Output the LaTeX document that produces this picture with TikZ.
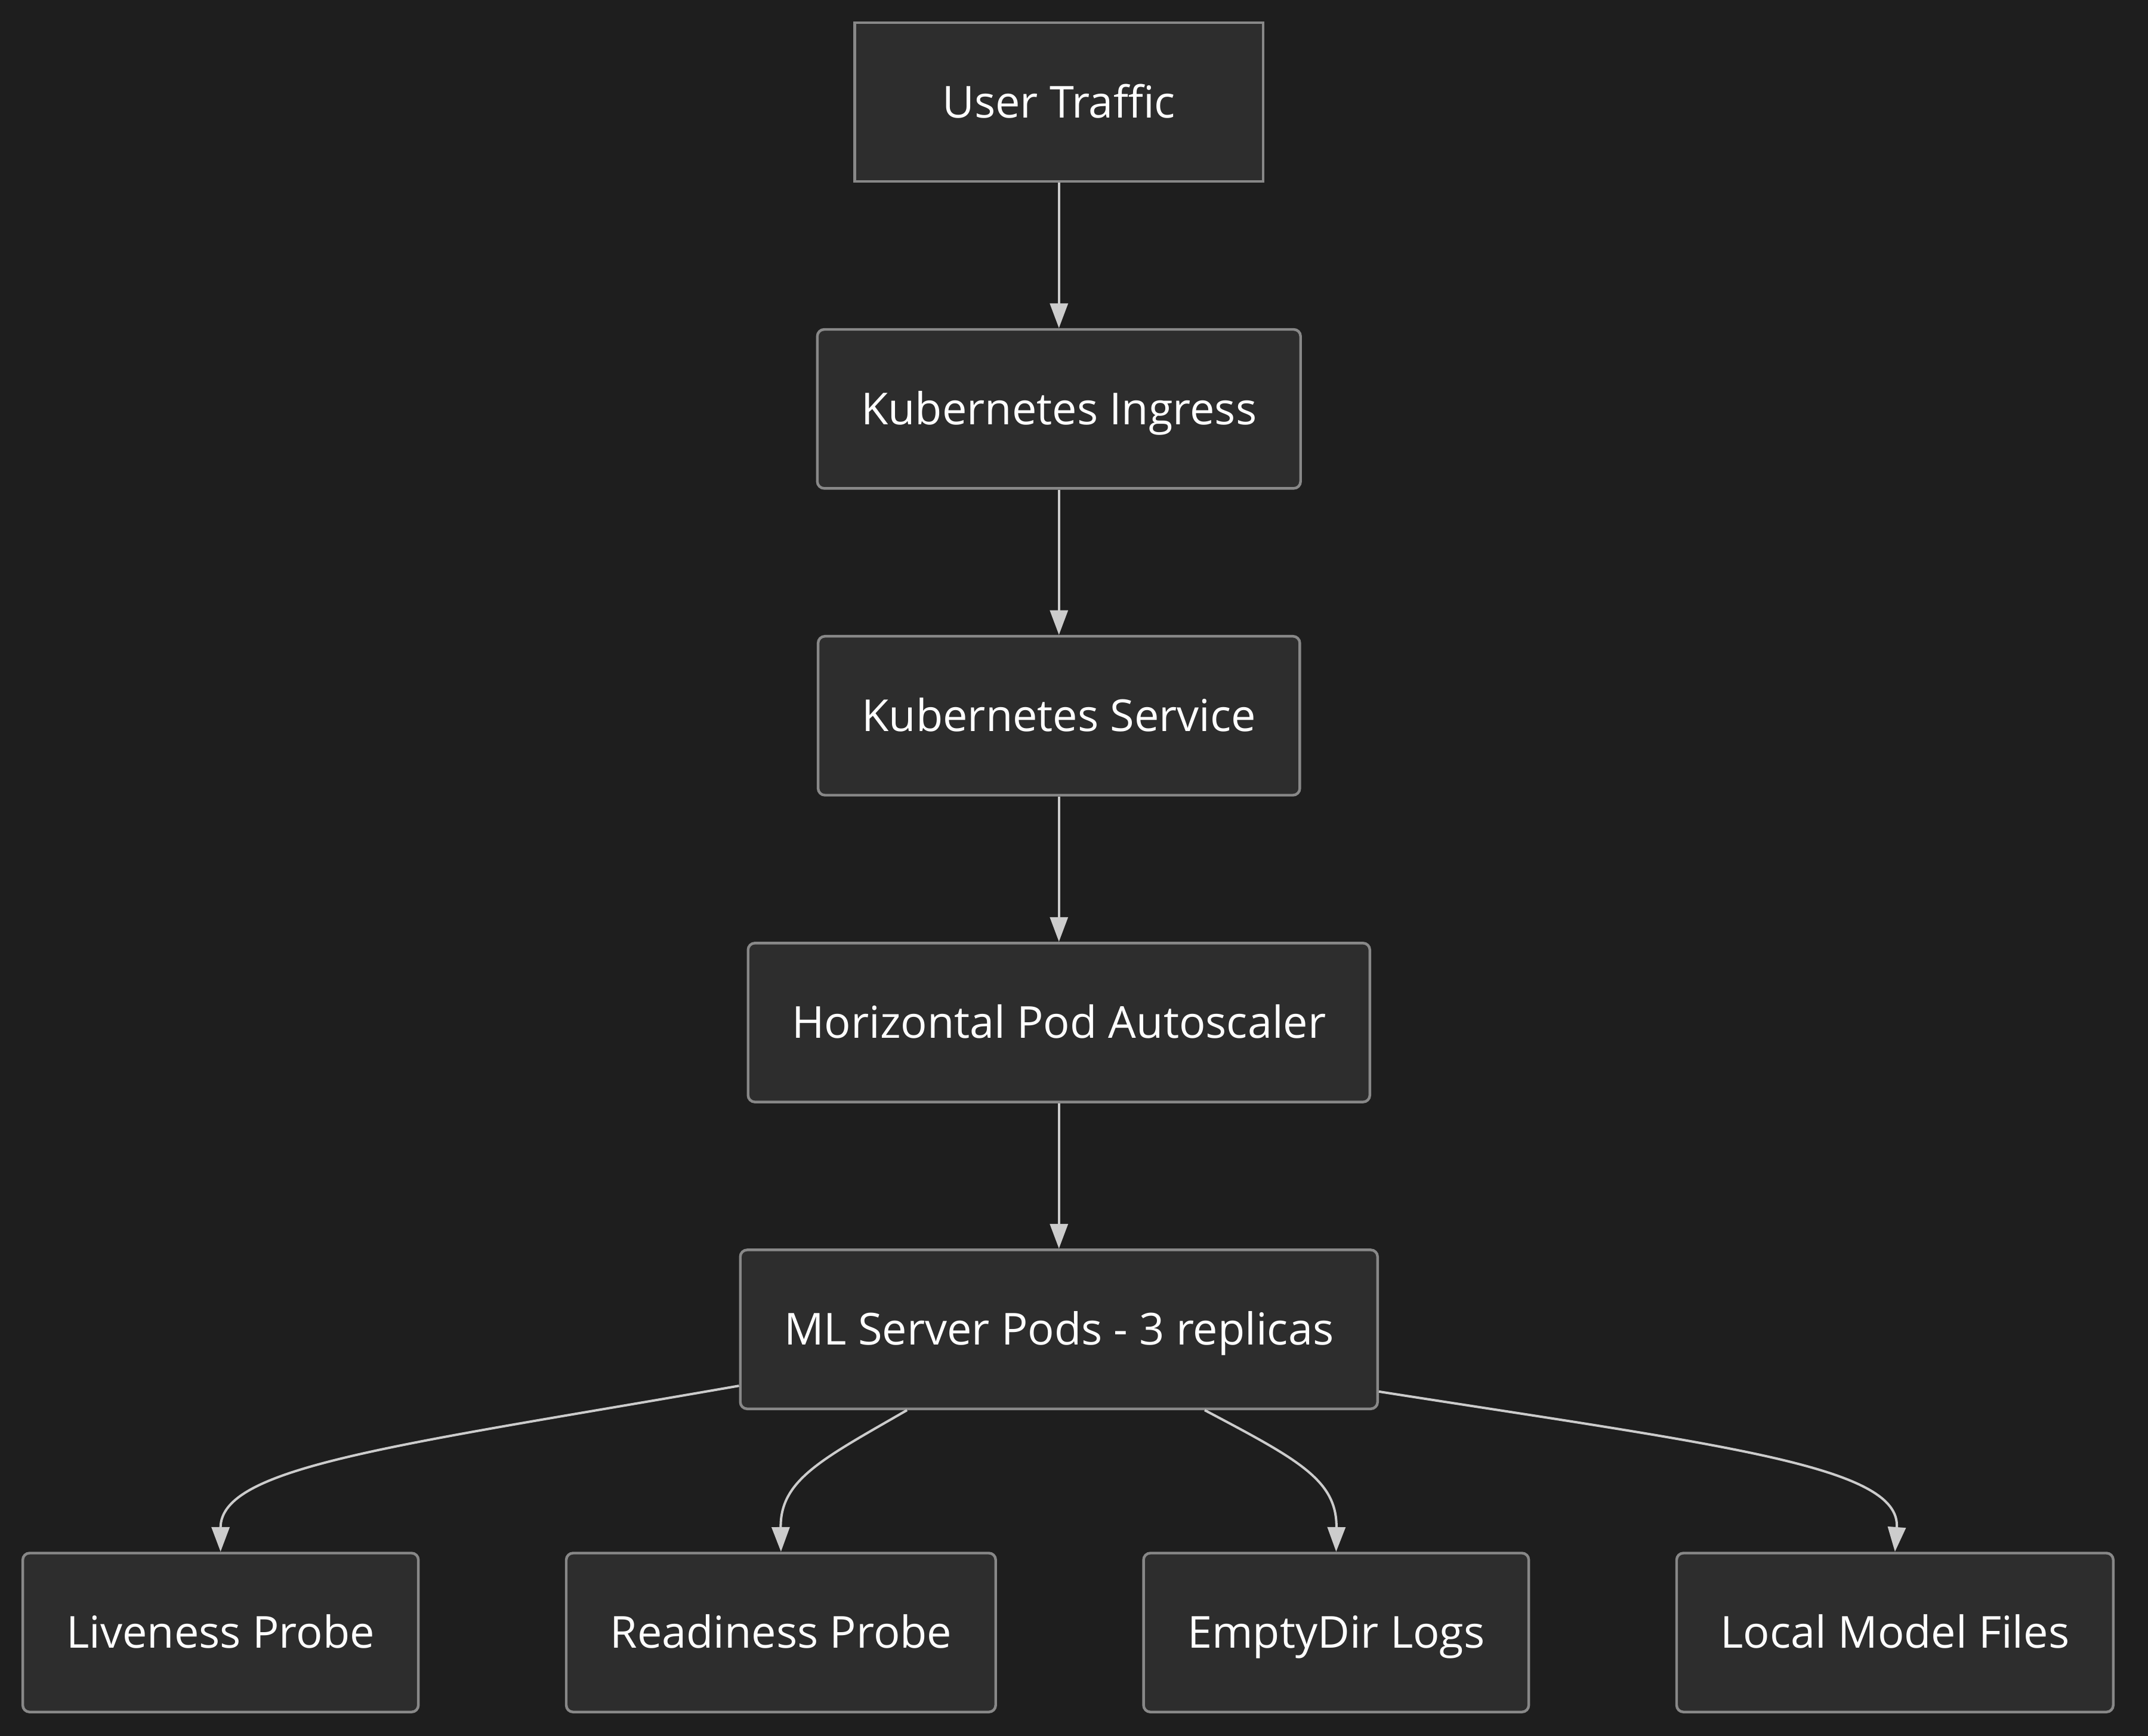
\documentclass[tikz,border=0pt]{standalone}
\usepackage{fontspec}
\setmainfont{Open Sans}
\usetikzlibrary{positioning,arrows.meta}
\definecolor{bgcol}{HTML}{1E1E1E}
\definecolor{boxfill}{HTML}{2D2D2D}
\definecolor{boxline}{HTML}{888888}
\definecolor{linkcol}{HTML}{CCCCCC}
\begin{document}
\begin{tikzpicture}[node distance=2.12cm,
    box/.style={draw=boxline, line width=1.1pt, fill=boxfill, text=white, rounded corners=0.1cm,
        minimum height=2.32cm, inner xsep=0.64cm, text height=13pt, text depth=0pt,
        font=\fontsize{18.3}{22}\selectfont},
    sharpbox/.style={box, sharp corners, inner xsep=1.28cm},
    link/.style={draw=linkcol, line width=1pt, -{Triangle[length=0.36cm, width=0.26cm]}}]
    % Background
    \fill[bgcol] (0,0) rectangle (31.36,-25.34);
    \useasboundingbox (0,0) rectangle (31.36,-25.34);

    % Main chain
    \node[sharpbox] (traffic) at (15.46,-1.49) {User Traffic};
    \node[box, below=of traffic] (ingress) {Kubernetes Ingress};
    \node[box, below=of ingress] (service) {Kubernetes Service};
    \node[box, below=of service] (hpa) {Horizontal Pod Autoscaler};
    \node[box, below=of hpa] (pods) {ML Server Pods - 3 replicas};

    % Bottom row
    \node[box] (liveness) at (3.22,-23.83) {Liveness Probe};
    \node[box, right=2.12cm of liveness] (readiness) {Readiness Probe};
    \node[box, right=2.12cm of readiness] (logs) {EmptyDir Logs};
    \node[box, right=2.12cm of logs] (model) {Local Model Files};

    % Connections
    \draw[link] (traffic) -- (ingress);
    \draw[link] (ingress) -- (service);
    \draw[link] (service) -- (hpa);
    \draw[link] (hpa) -- (pods);

    \draw[link] (pods.190.7) .. controls (5.8,-21.1) and (3.22,-21.4) .. (liveness.north);
    \draw[link] (pods.208.7) .. controls (12.0,-21.3) and (11.39,-21.6) .. (readiness.north);
    \draw[link] (pods.331.3) .. controls (18.94,-21.3) and (19.52,-21.6) .. (logs.north);
    \draw[link] (pods.349.3) .. controls (25.16,-21.1) and (27.76,-21.4) .. (model.north);
\end{tikzpicture}
\end{document}
